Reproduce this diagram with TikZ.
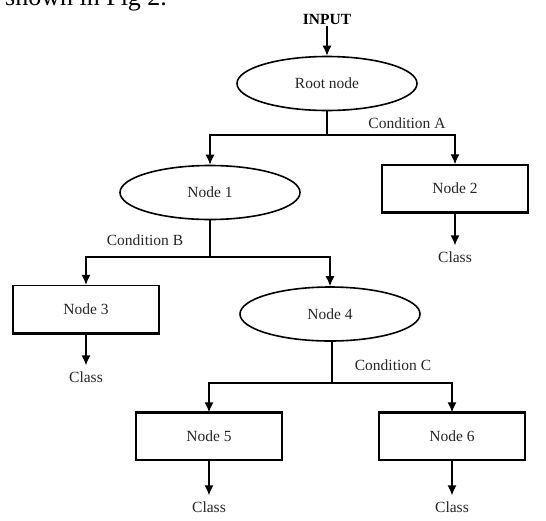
\documentclass[tikz,border=0pt]{standalone}
\usepackage{fontspec}
\setmainfont{Liberation Serif}
\usetikzlibrary{arrows.meta,shapes.geometric}
\begin{document}
\begin{tikzpicture}[x=1pt,y=-1pt,
  txt/.style={font=\fontsize{15.5}{18}\selectfont, text=black!85},
  oval/.style={ellipse, draw, line width=1.6pt, minimum width=180pt,
    minimum height=54pt, inner sep=0pt, txt},
  box/.style={rectangle, draw, line width=1.5pt, minimum width=146pt,
    minimum height=47pt, inner sep=0pt, txt},
  leaf/.style={txt, inner xsep=0pt, inner ysep=6pt},
  cond/.style={txt, inner sep=0pt},
  link/.style={line width=1.3pt},
  arr/.style={link, -{Latex[length=10pt,width=9pt]}},
  heavy/.style={line width=3pt}]
\useasboundingbox (0,0) rectangle (546,520);
\fill[white] (0,0) rectangle (546,520);
\clip (0,0) rectangle (546,520);

% caption line running off the top edge
\node[anchor=base west, inner sep=0pt, font=\fontsize{26}{30}\selectfont]
  (caption) at (5,5) {shown in Fig 2.};

% input and root
\node[font=\fontsize{15.5}{18}\selectfont\bfseries, inner sep=2pt] (input) at (327,19) {INPUT};
\node[oval] (root) at (327,83.5) {Root node};

% first level
\node[oval] (n1) at (210,192.5) {Node 1};
\node[box]  (n2) at (455,188.5) {Node 2};
\node[leaf] (c2) at (455,257) {Class};

% second level
\node[box]  (n3) at (86,309) {Node 3};
\node[leaf] (c3) at (86,377) {Class};
\node[oval] (n4) at (330,314) {Node 4};

% third level
\node[box]  (n5) at (209,436.5) {Node 5};
\node[box]  (n6) at (452,436.5) {Node 6};
\node[leaf] (c5) at (209,507) {Class};
\node[leaf] (c6) at (452,507) {Class};

% heavier edges on some boxes
\draw[heavy] (n5.north west) -- (n5.north east);
\draw[heavy] (n6.north west) -- (n6.north east);
\draw[line width=2.5pt] (n2.south west) -- (n2.south east);
\draw[line width=2.5pt] (n3.south west) -- (n3.south east);

% condition labels
\node[cond] (ca) at (407,123) {Condition A};
\node[cond] (cb) at (145,240) {Condition B};
\node[cond] (cc) at (393,365) {Condition C};

% junction points
\coordinate (jA) at (327,135);
\coordinate (jB) at (210,257);
\coordinate (jC) at (332,383);

% connectors
\draw[arr] (input) -- (root);
\draw[link] (root) -- (jA);
\draw[arr] (jA) -| (n1);
\draw[arr] (jA) -| (n2);
\draw[arr] (n2) -- (c2);

\draw[link] (n1) -- (jB);
\draw[arr] (jB) -| (n3);
\draw[arr] (jB) -| (n4);
\draw[arr] (n3) -- (c3);

\draw[line width=2.6pt] (n4.south -| jC) -- (jC);
\draw[arr] (jC) -| (n5);
\draw[arr] (jC) -| (n6);
\draw[arr] (n5) -- (c5);
\draw[arr] (n6) -- (c6);
\end{tikzpicture}
\end{document}
